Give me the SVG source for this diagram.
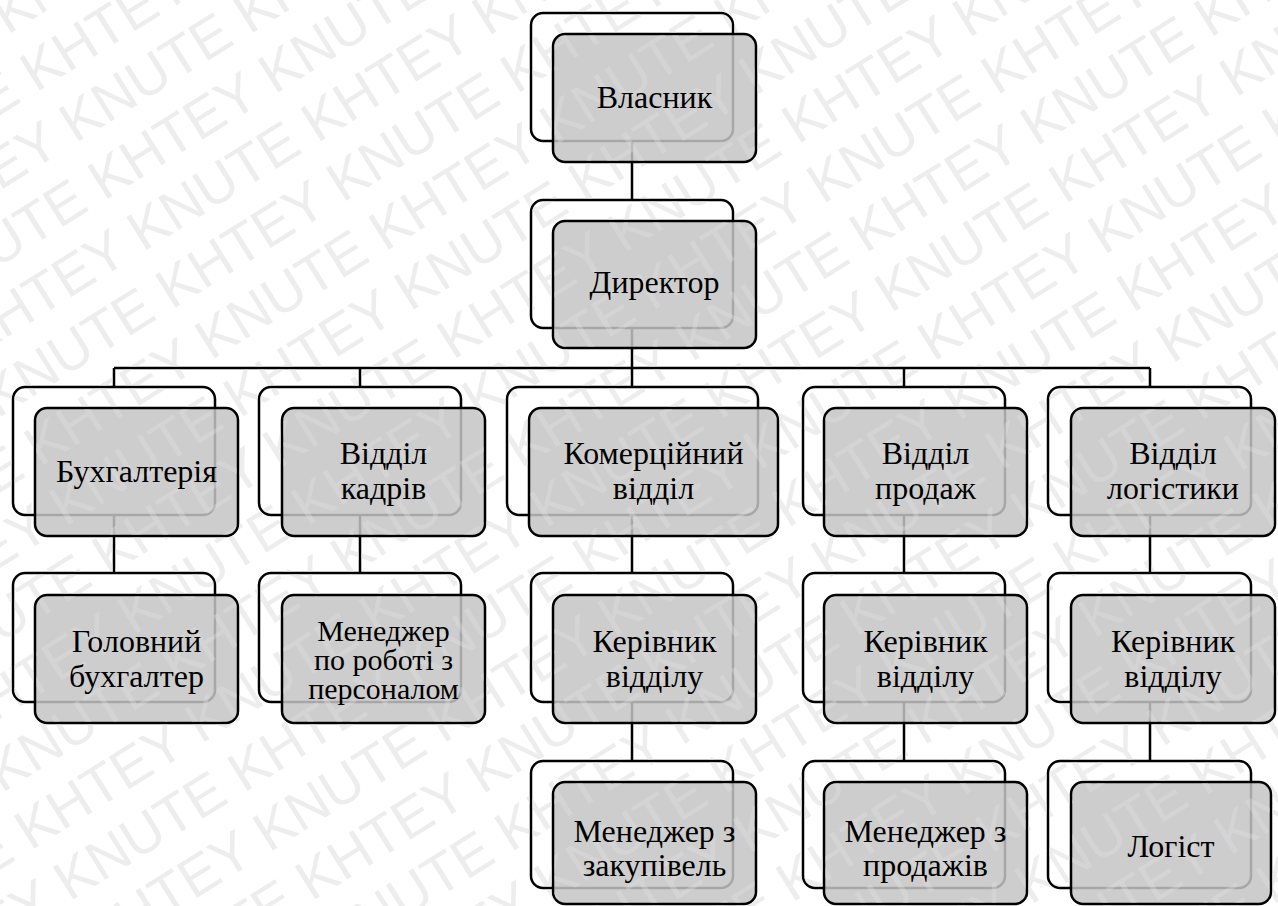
<svg xmlns="http://www.w3.org/2000/svg" xmlns:xlink="http://www.w3.org/1999/xlink" width="1278" height="906" viewBox="0 0 1278 906">
<style>
.back{fill:#ffffff;stroke:#000;stroke-width:2.5}
.front{fill:#c4c4c4;fill-opacity:0.85;stroke:#000;stroke-width:2.5}
.lbl{font-size:32px;fill:#000;text-anchor:middle}
.sm{font-size:30px}
.conn{stroke:#000;stroke-width:2.5;fill:none}
.wm{font-family:'Liberation Sans',Arial,sans-serif;font-size:56px;fill:#dedede;fill-opacity:0.55}
</style>
<defs>
<mask id="wmmask" maskUnits="userSpaceOnUse" x="0" y="0" width="1278" height="906">
<rect x="0" y="0" width="1278" height="906" fill="#ffffff"/>
<use href="#connectors" xlink:href="#connectors"/>
<use href="#nodes" xlink:href="#nodes"/>
</mask>
</defs>
<rect width="1278" height="906" fill="#ffffff"/>
<g id="connectors">
<path class="conn" d="M632 141V200M632 328V368M114 368H1150M114 368V387M360 368V387M632 368V387M904 368V387M1150 368V387"/>
<path class="conn" d="M114 515V573M360 515V573M632 515V573M904 515V573M1150 515V573"/>
<path class="conn" d="M632 702V761M904 702V761M1150 702V761"/>
</g>
<g id="nodes" font-family="Liberation Serif, Times New Roman, DejaVu Serif, serif">
<g id="n-vlasnyk">
<rect class="back" x="531" y="13" width="202" height="128" rx="12"/>
<rect class="front" x="553" y="34" width="203" height="128" rx="12"/>
<text class="lbl" x="654.5" y="108">Власник</text>
</g>
<g id="n-dyrektor">
<rect class="back" x="531" y="200" width="202" height="128" rx="12"/>
<rect class="front" x="553" y="221" width="203" height="127" rx="12"/>
<text class="lbl" x="654.5" y="293">Директор</text>
</g>
<g id="n-buh">
<rect class="back" x="13" y="387" width="202" height="128" rx="12"/>
<rect class="front" x="35" y="408" width="203" height="128" rx="12"/>
<text class="lbl" x="136.5" y="482">Бухгалтерія</text>
</g>
<g id="n-kadry">
<rect class="back" x="259" y="387" width="202" height="128" rx="12"/>
<rect class="front" x="282" y="408" width="203" height="128" rx="12"/>
<text class="lbl" x="383.5" y="464">Відділ</text>
<text class="lbl" x="383.5" y="499">кадрів</text>
</g>
<g id="n-komerc">
<rect class="back" x="507" y="387" width="251" height="128" rx="12"/>
<rect class="front" x="529" y="408" width="249" height="128" rx="12"/>
<text class="lbl" x="653.5" y="464">Комерційний</text>
<text class="lbl" x="653.5" y="499">відділ</text>
</g>
<g id="n-prodazh">
<rect class="back" x="803" y="387" width="202" height="128" rx="12"/>
<rect class="front" x="824" y="408" width="203" height="128" rx="12"/>
<text class="lbl" x="925.5" y="464">Відділ</text>
<text class="lbl" x="925.5" y="499">продаж</text>
</g>
<g id="n-logistyka">
<rect class="back" x="1048" y="387" width="203" height="128" rx="12"/>
<rect class="front" x="1071" y="408" width="204" height="128" rx="12"/>
<text class="lbl" x="1173" y="464">Відділ</text>
<text class="lbl" x="1173" y="499">логістики</text>
</g>
<g id="n-golovbuh">
<rect class="back" x="13" y="573" width="202" height="129" rx="12"/>
<rect class="front" x="35" y="595" width="203" height="128" rx="12"/>
<text class="lbl" x="136.5" y="652">Головний</text>
<text class="lbl" x="136.5" y="687">бухгалтер</text>
</g>
<g id="n-personal">
<rect class="back" x="259" y="573" width="202" height="129" rx="12"/>
<rect class="front" x="282" y="595" width="203" height="128" rx="12"/>
<text class="lbl sm" x="383.5" y="641">Менеджер</text>
<text class="lbl sm" x="383.5" y="670">по роботі з</text>
<text class="lbl sm" x="383.5" y="699">персоналом</text>
</g>
<g id="n-kerivnyk1">
<rect class="back" x="531" y="573" width="202" height="129" rx="12"/>
<rect class="front" x="553" y="595" width="203" height="128" rx="12"/>
<text class="lbl" x="654.5" y="652">Керівник</text>
<text class="lbl" x="654.5" y="687">відділу</text>
</g>
<g id="n-kerivnyk2">
<rect class="back" x="803" y="573" width="202" height="129" rx="12"/>
<rect class="front" x="824" y="595" width="203" height="128" rx="12"/>
<text class="lbl" x="925.5" y="652">Керівник</text>
<text class="lbl" x="925.5" y="687">відділу</text>
</g>
<g id="n-kerivnyk3">
<rect class="back" x="1048" y="573" width="203" height="129" rx="12"/>
<rect class="front" x="1071" y="595" width="204" height="128" rx="12"/>
<text class="lbl" x="1173" y="652">Керівник</text>
<text class="lbl" x="1173" y="687">відділу</text>
</g>
<g id="n-zakupivli">
<rect class="back" x="531" y="761" width="202" height="127" rx="12"/>
<rect class="front" x="553" y="782" width="203" height="122" rx="12"/>
<text class="lbl" x="654.5" y="842">Менеджер з</text>
<text class="lbl" x="654.5" y="876">закупівель</text>
</g>
<g id="n-prodazhi">
<rect class="back" x="803" y="761" width="202" height="127" rx="12"/>
<rect class="front" x="824" y="782" width="203" height="122" rx="12"/>
<text class="lbl" x="925.5" y="842">Менеджер з</text>
<text class="lbl" x="925.5" y="876">продажів</text>
</g>
<g id="n-logist">
<rect class="back" x="1048" y="761" width="203" height="127" rx="12"/>
<rect class="front" x="1071" y="782" width="200" height="122" rx="12"/>
<text class="lbl" x="1171" y="857">Логіст</text>
</g>
</g>
<g id="watermark" mask="url(#wmmask)">
<g transform="rotate(-32 639 453)">
<text class="wm" x="-700" y="-300">KNUTE KHTEY KNUTE KHTEY KNUTE KHTEY KNUTE KHTEY KNUTE KHTEY KNUTE KHTEY KNUTE</text>
<text class="wm" x="-895" y="-236">KNUTE KHTEY KNUTE KHTEY KNUTE KHTEY KNUTE KHTEY KNUTE KHTEY KNUTE KHTEY KNUTE</text>
<text class="wm" x="-700" y="-172">KNUTE KHTEY KNUTE KHTEY KNUTE KHTEY KNUTE KHTEY KNUTE KHTEY KNUTE KHTEY KNUTE</text>
<text class="wm" x="-895" y="-108">KNUTE KHTEY KNUTE KHTEY KNUTE KHTEY KNUTE KHTEY KNUTE KHTEY KNUTE KHTEY KNUTE</text>
<text class="wm" x="-700" y="-44">KNUTE KHTEY KNUTE KHTEY KNUTE KHTEY KNUTE KHTEY KNUTE KHTEY KNUTE KHTEY KNUTE</text>
<text class="wm" x="-895" y="20">KNUTE KHTEY KNUTE KHTEY KNUTE KHTEY KNUTE KHTEY KNUTE KHTEY KNUTE KHTEY KNUTE</text>
<text class="wm" x="-700" y="84">KNUTE KHTEY KNUTE KHTEY KNUTE KHTEY KNUTE KHTEY KNUTE KHTEY KNUTE KHTEY KNUTE</text>
<text class="wm" x="-895" y="148">KNUTE KHTEY KNUTE KHTEY KNUTE KHTEY KNUTE KHTEY KNUTE KHTEY KNUTE KHTEY KNUTE</text>
<text class="wm" x="-700" y="212">KNUTE KHTEY KNUTE KHTEY KNUTE KHTEY KNUTE KHTEY KNUTE KHTEY KNUTE KHTEY KNUTE</text>
<text class="wm" x="-895" y="276">KNUTE KHTEY KNUTE KHTEY KNUTE KHTEY KNUTE KHTEY KNUTE KHTEY KNUTE KHTEY KNUTE</text>
<text class="wm" x="-700" y="340">KNUTE KHTEY KNUTE KHTEY KNUTE KHTEY KNUTE KHTEY KNUTE KHTEY KNUTE KHTEY KNUTE</text>
<text class="wm" x="-895" y="404">KNUTE KHTEY KNUTE KHTEY KNUTE KHTEY KNUTE KHTEY KNUTE KHTEY KNUTE KHTEY KNUTE</text>
<text class="wm" x="-700" y="468">KNUTE KHTEY KNUTE KHTEY KNUTE KHTEY KNUTE KHTEY KNUTE KHTEY KNUTE KHTEY KNUTE</text>
<text class="wm" x="-895" y="532">KNUTE KHTEY KNUTE KHTEY KNUTE KHTEY KNUTE KHTEY KNUTE KHTEY KNUTE KHTEY KNUTE</text>
<text class="wm" x="-700" y="596">KNUTE KHTEY KNUTE KHTEY KNUTE KHTEY KNUTE KHTEY KNUTE KHTEY KNUTE KHTEY KNUTE</text>
<text class="wm" x="-895" y="660">KNUTE KHTEY KNUTE KHTEY KNUTE KHTEY KNUTE KHTEY KNUTE KHTEY KNUTE KHTEY KNUTE</text>
<text class="wm" x="-700" y="724">KNUTE KHTEY KNUTE KHTEY KNUTE KHTEY KNUTE KHTEY KNUTE KHTEY KNUTE KHTEY KNUTE</text>
<text class="wm" x="-895" y="788">KNUTE KHTEY KNUTE KHTEY KNUTE KHTEY KNUTE KHTEY KNUTE KHTEY KNUTE KHTEY KNUTE</text>
<text class="wm" x="-700" y="852">KNUTE KHTEY KNUTE KHTEY KNUTE KHTEY KNUTE KHTEY KNUTE KHTEY KNUTE KHTEY KNUTE</text>
<text class="wm" x="-895" y="916">KNUTE KHTEY KNUTE KHTEY KNUTE KHTEY KNUTE KHTEY KNUTE KHTEY KNUTE KHTEY KNUTE</text>
<text class="wm" x="-700" y="980">KNUTE KHTEY KNUTE KHTEY KNUTE KHTEY KNUTE KHTEY KNUTE KHTEY KNUTE KHTEY KNUTE</text>
<text class="wm" x="-895" y="1044">KNUTE KHTEY KNUTE KHTEY KNUTE KHTEY KNUTE KHTEY KNUTE KHTEY KNUTE KHTEY KNUTE</text>
<text class="wm" x="-700" y="1108">KNUTE KHTEY KNUTE KHTEY KNUTE KHTEY KNUTE KHTEY KNUTE KHTEY KNUTE KHTEY KNUTE</text>
<text class="wm" x="-895" y="1172">KNUTE KHTEY KNUTE KHTEY KNUTE KHTEY KNUTE KHTEY KNUTE KHTEY KNUTE KHTEY KNUTE</text>
<text class="wm" x="-700" y="1236">KNUTE KHTEY KNUTE KHTEY KNUTE KHTEY KNUTE KHTEY KNUTE KHTEY KNUTE KHTEY KNUTE</text>
</g>
</g>
</svg>
